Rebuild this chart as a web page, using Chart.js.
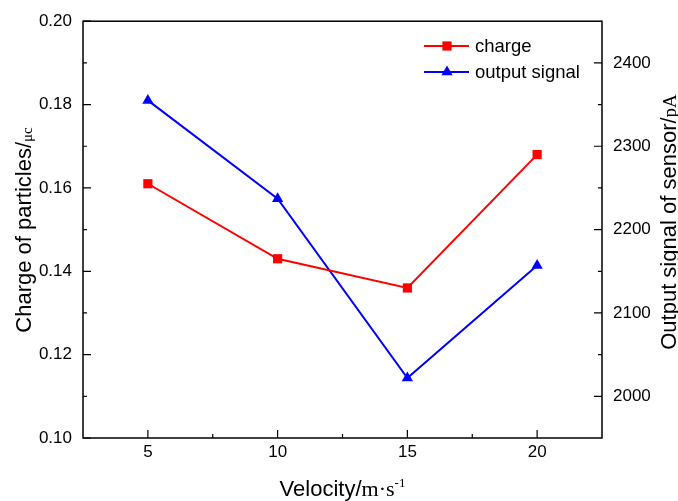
<!DOCTYPE html>
<html>
<head>
<meta charset="utf-8">
<script src="https://cdn.jsdelivr.net/npm/chart.js@4.4.1/dist/chart.umd.min.js"></script>
<style>
  html, body { margin: 0; padding: 0; background: #fff; }
  #chart { display: block; }
</style>
</head>
<body>
<canvas id="chart" width="678" height="501"></canvas>
<script>
// ─── Data ───────────────────────────────────────────────────
const velocity = [5, 10, 15, 20];
const charge = [0.161, 0.143, 0.136, 0.168];
const outputSignal = [2355, 2237, 2022, 2157];

const xTicks = [5, 10, 15, 20];
const xMinor = [7.5, 12.5, 17.5];
const chargeTicks = [0.10, 0.12, 0.14, 0.16, 0.18, 0.20];
const chargeMinor = [0.11, 0.13, 0.15, 0.17, 0.19];
const signalTicks = [2000, 2100, 2200, 2300, 2400];
const signalMinor = [2050, 2150, 2250, 2350];

const seriesNames = ['charge', 'output signal'];

const SANS = "'Liberation Sans', Arial, sans-serif";
const SERIF = "'Liberation Serif', 'Times New Roman', serif";
const RED = '#ff0000';
const BLUE = '#0000ff';

Chart.defaults.font.family = SANS;
Chart.defaults.font.size = 17;
Chart.defaults.color = '#000';

const toPoints = (ys) => velocity.map((v, i) => ({ x: v, y: ys[i] }));
const setTicks = (list) => (axis) => { axis.ticks = list.map(v => ({ value: v })); };

// ─── Frame + inward ticks ───────────────────────────────────
const frameTicks = {
    id: 'frameTicks',
    beforeDatasetsDraw(chart) {
        const { ctx, chartArea: a, scales } = chart;
        ctx.save();
        ctx.strokeStyle = '#000';
        ctx.lineWidth = 1.5;
        ctx.strokeRect(a.left, a.top, a.right - a.left, a.bottom - a.top);
        ctx.lineWidth = 1.2;
        ctx.beginPath();
        const tick = (list, len, fn) => list.forEach(v => fn(v, len));
        tick(xTicks, 8, (v, l) => { const p = scales.x.getPixelForValue(v); ctx.moveTo(p, a.bottom); ctx.lineTo(p, a.bottom - l); });
        tick(xMinor, 4, (v, l) => { const p = scales.x.getPixelForValue(v); ctx.moveTo(p, a.bottom); ctx.lineTo(p, a.bottom - l); });
        tick(chargeTicks, 8, (v, l) => { const p = scales.y.getPixelForValue(v); ctx.moveTo(a.left, p); ctx.lineTo(a.left + l, p); });
        tick(chargeMinor, 4, (v, l) => { const p = scales.y.getPixelForValue(v); ctx.moveTo(a.left, p); ctx.lineTo(a.left + l, p); });
        tick(signalTicks, 8, (v, l) => { const p = scales.y2.getPixelForValue(v); ctx.moveTo(a.right, p); ctx.lineTo(a.right - l, p); });
        tick(signalMinor, 4, (v, l) => { const p = scales.y2.getPixelForValue(v); ctx.moveTo(a.right, p); ctx.lineTo(a.right - l, p); });
        ctx.stroke();
        ctx.restore();
    }
};

// ─── Axis titles + legend ───────────────────────────────────
function drawParts(ctx, parts, cx, cy) {
    // parts: [text, font, dy]
    let total = 0;
    parts.forEach(p => { ctx.font = p[1]; total += ctx.measureText(p[0]).width; });
    let x = cx - total / 2;
    parts.forEach(p => {
        ctx.font = p[1];
        ctx.fillText(p[0], x, cy + (p[2] || 0));
        x += ctx.measureText(p[0]).width;
    });
}

function drawMarker(ctx, style, x, y, color) {
    ctx.fillStyle = color;
    ctx.beginPath();
    if (style === 'rect') {
        ctx.rect(x - 4.6, y - 4.6, 9.2, 9.2);
    } else {
        ctx.moveTo(x, y - 6.5);
        ctx.lineTo(x + 5.6, y + 3.25);
        ctx.lineTo(x - 5.6, y + 3.25);
        ctx.closePath();
    }
    ctx.fill();
}

const annotations = {
    id: 'annotations',
    afterDraw(chart) {
        const { ctx, chartArea: a } = chart;
        ctx.save();
        ctx.fillStyle = '#000';
        ctx.textBaseline = 'alphabetic';
        ctx.textAlign = 'left';

        // x title
        drawParts(ctx, [
            ['Velocity/', '22px ' + SANS],
            ['m\u00b7s', '22px ' + SERIF],
            ['-1', '13px ' + SERIF, -9]
        ], (a.left + a.right) / 2, 496);

        // left title
        ctx.save();
        ctx.translate(31, 230);
        ctx.rotate(-Math.PI / 2);
        drawParts(ctx, [
            ['Charge of particles/', '22px ' + SANS],
            ['\u03bcc', '15px ' + SERIF, 1]
        ], 0, 0);
        ctx.restore();

        // right title
        ctx.save();
        ctx.translate(676, 222);
        ctx.rotate(-Math.PI / 2);
        drawParts(ctx, [
            ['Output signal of sensor/', '22px ' + SANS],
            ['pA', '19px ' + SERIF, 0]
        ], 0, 0);
        ctx.restore();

        // legend
        const ds = chart.data.datasets;
        ctx.font = '18.5px ' + SANS;
        ctx.textBaseline = 'middle';
        seriesNames.forEach((name, i) => {
            const y = 46 + i * 26;
            ctx.strokeStyle = ds[i].borderColor;
            ctx.lineWidth = 2;
            ctx.beginPath();
            ctx.moveTo(424, y);
            ctx.lineTo(469, y);
            ctx.stroke();
            drawMarker(ctx, ds[i].pointStyle, 447, y, ds[i].borderColor);
            ctx.fillStyle = '#000';
            ctx.fillText(name, 475, y + 1);
        });
        ctx.restore();
    }
};

// ─── Chart ──────────────────────────────────────────────────
new Chart(document.getElementById('chart'), {
    type: 'line',
    data: {
        datasets: [
            {
                label: seriesNames[0], data: toPoints(charge), yAxisID: 'y',
                borderColor: RED, backgroundColor: RED, borderWidth: 2,
                pointStyle: 'rect', pointRadius: 6.5, pointBorderWidth: 0, tension: 0, clip: false
            },
            {
                label: seriesNames[1], data: toPoints(outputSignal), yAxisID: 'y2',
                borderColor: BLUE, backgroundColor: BLUE, borderWidth: 2,
                pointStyle: 'triangle', pointRadius: 6.5, pointBorderWidth: 0, tension: 0, clip: false
            }
        ]
    },
    options: {
        responsive: false, animation: false, devicePixelRatio: 1,
        layout: { padding: { top: 20, left: 0, right: 0, bottom: 0 } },
        plugins: { legend: { display: false }, tooltip: { enabled: false } },
        scales: {
            x: {
                type: 'linear', min: 2.5, max: 22.5,
                afterBuildTicks: setTicks(xTicks),
                afterFit: (s) => { s.height = 63; },
                grid: { display: true, drawOnChartArea: false, drawTicks: false },
                border: { display: false },
                ticks: { padding: 4, font: { size: 17 }, callback: v => String(v) }
            },
            y: {
                position: 'left', min: 0.10, max: 0.20,
                afterBuildTicks: setTicks(chargeTicks),
                afterFit: (s) => { s.width = 83; },
                grid: { display: true, drawOnChartArea: false, drawTicks: false },
                border: { display: false },
                ticks: { padding: 11, font: { size: 17 }, callback: v => v.toFixed(2) }
            },
            y2: {
                position: 'right', min: 1950, max: 2450,
                afterBuildTicks: setTicks(signalTicks),
                afterFit: (s) => { s.width = 76; },
                grid: { display: true, drawOnChartArea: false, drawTicks: false },
                border: { display: false },
                ticks: { padding: 11, font: { size: 17 }, callback: v => String(v) }
            }
        }
    },
    plugins: [frameTicks, annotations]
});
</script>
</body>
</html>
